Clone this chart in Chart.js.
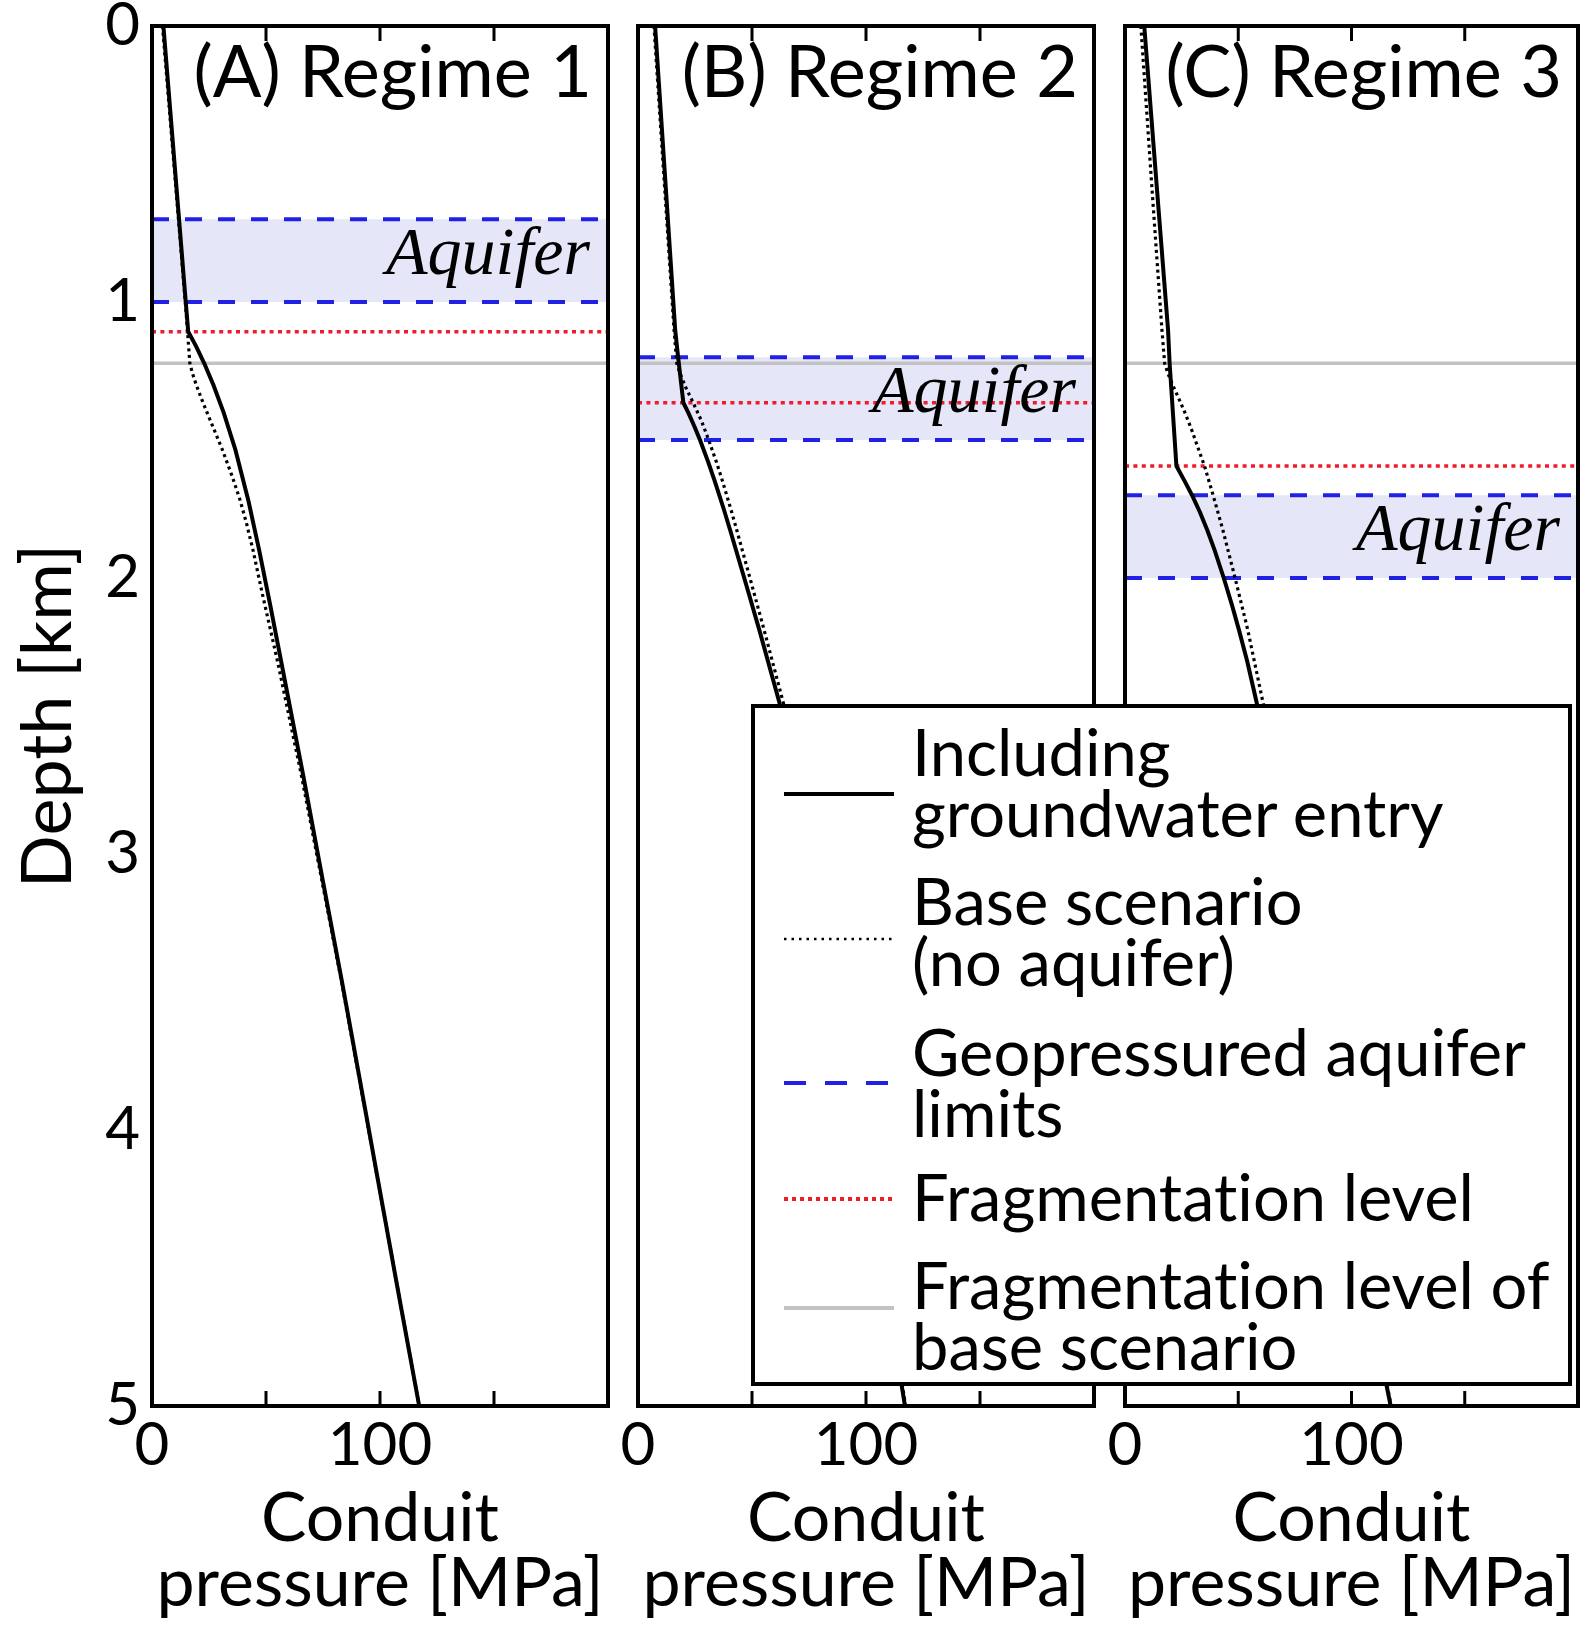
<!DOCTYPE html>
<html>
<head>
<meta charset="utf-8">
<script src="https://cdn.jsdelivr.net/npm/chart.js@4.4.1/dist/chart.umd.min.js"></script>
<style>
  body { margin: 0; background: #fff; }
  #wrap { position: relative; width: 1581px; height: 1625px; overflow: hidden; font-family: Lato, sans-serif; }
  #wrap canvas { position: absolute; left: 0; top: 0; }
  #legend { position: absolute; left: 751px; top: 704px; width: 821px; height: 682px; box-sizing: border-box;
            border: 4px solid #000; background: #fff; z-index: 5; }
  .ltext { position: absolute; left: 912px; font-size: 65px; line-height: 61px; color: #000; white-space: nowrap;
           font-variant-ligatures: none; z-index: 6; }
  .lsample { position: absolute; left: 784px; z-index: 6; }
</style>
</head>
<body>
<div id="wrap">
  <canvas id="panelA" width="1581" height="1625"></canvas>
  <canvas id="panelB" width="1581" height="1625"></canvas>
  <canvas id="panelC" width="1581" height="1625"></canvas>
  <div id="legend"></div>
</div>
<script>
const pressureMax = 200;
const depthMax = 5;
const depthTicks = [0, 1, 2, 3, 4, 5];
const pressureTicks = [0, 50, 100, 150, 200];
const pressureTickLabels = [0, 100];

const titles = ["(A) Regime 1", "(B) Regime 2", "(C) Regime 3"];
const aquiferTop = [0.70, 1.20, 1.70];
const aquiferBottom = [1.00, 1.50, 2.00];
const fragLevel = [1.108, 1.365, 1.594];
const baseFragLevel = 1.222;

// [pressure MPa, depth km]
const solidA = [[5.0, 0], [9.9, 0.5], [14.8, 1.0], [15.9, 1.108], [19.3, 1.16], [22.9, 1.222], [26.9, 1.3],
  [31.4, 1.4], [36.6, 1.536], [42.2, 1.717], [47.0, 1.899], [51.9, 2.1], [56.6, 2.3], [66.3, 2.714],
  [75.0, 3.1], [83.2, 3.457], [91.2, 3.82], [99.5, 4.2], [108.3, 4.6], [117.2, 5.0]];
const dottedA = [[4.6, 0], [9.6, 0.5], [14.6, 1.0], [15.6, 1.108], [16.6, 1.222], [17.8, 1.26], [19.4, 1.3],
  [21.9, 1.355], [26.6, 1.45], [30.9, 1.536], [35.1, 1.63], [38.6, 1.717], [41.4, 1.8], [44.3, 1.899],
  [48.2, 2.05], [55.0, 2.3], [65.5, 2.714], [83.0, 3.457], [117.2, 5.0]];

const solidB = [[7.5, 0], [12.3, 0.6], [16.3, 1.1], [17.6, 1.2], [19.9, 1.365], [22.0, 1.40], [24.7, 1.45],
  [27.2, 1.5], [30.8, 1.58], [33.7, 1.65], [37.6, 1.75], [40.4, 1.826], [46.6, 2.0], [53.2, 2.188],
  [62.1, 2.454], [73.0, 2.9], [85.5, 3.45], [97.0, 4.0], [107.3, 4.5], [117.1, 5.0]];
const dottedB = [[7.0, 0], [11.8, 0.6], [15.8, 1.1], [17.0, 1.222], [18.5, 1.26], [20.8, 1.307], [24.2, 1.365],
  [27.8, 1.43], [31.0, 1.5], [34.4, 1.58], [37.1, 1.65], [40.7, 1.75], [43.3, 1.826], [49.1, 2.0],
  [55.3, 2.188], [63.8, 2.454], [74.0, 2.9], [86.0, 3.45], [97.5, 4.0], [107.6, 4.5], [117.4, 5.0]];

const solidC = [[8.5, 0], [14.2, 0.6], [19.0, 1.1], [19.7, 1.222], [22.7, 1.594], [26.4, 1.65], [29.6, 1.70],
  [33.0, 1.76], [36.3, 1.826], [39.6, 1.9], [43.6, 2.0], [47.3, 2.1], [50.3, 2.188], [53.9, 2.3],
  [58.2, 2.454], [68.5, 2.88], [81.0, 3.45], [93.0, 4.0], [105.0, 4.5], [117.3, 5.0]];
const dottedC = [[7.0, 0], [12.0, 0.6], [16.3, 1.1], [17.5, 1.222], [19.0, 1.26], [21.0, 1.30], [23.4, 1.343],
  [26.4, 1.40], [29.3, 1.46], [32.3, 1.53], [35.1, 1.594], [38.9, 1.70], [43.2, 1.826], [48.6, 2.0],
  [54.2, 2.188], [61.0, 2.454], [71.0, 2.88], [83.0, 3.45], [94.5, 4.0], [105.8, 4.5], [117.5, 5.0]];

const solidCurves = [solidA, solidB, solidC];
const dottedCurves = [dottedA, dottedB, dottedC];

const legendLabels = [
  ["Including", "groundwater entry"],
  ["Base scenario", "(no aquifer)"],
  ["Geopressured aquifer", "limits"],
  ["Fragmentation level"],
  ["Fragmentation level of", "base scenario"],
];

// page layout
const panelLeft = [152, 638, 1125];
const panelRight = [608, 1094, 1578];
const panelTop = 26;
const panelBottom = 1406;
const pageW = 1581, pageH = 1625;

const blue = "#2121e6";
const red = "#f01c2c";
const grey = "#c2c2c2";
const shade = "#e5e7f8";

Chart.defaults.font.family = "Lato, sans-serif";
Chart.defaults.font.size = 60;
Chart.defaults.color = "#000";

function toXY(pairs) {
  return pairs.map(p => ({ x: p[0], y: p[1] }));
}
function level(d) {
  return [{ x: 0, y: d }, { x: pressureMax, y: d }];
}

const framePlugin = {
  id: "frame",
  afterDatasetsDraw(chart, args, opts) {
    const { ctx, chartArea: a } = chart;
    const x = chart.scales.x, y = chart.scales.y;
    ctx.save();
    ctx.fillStyle = "#000";
    ctx.textAlign = "right";
    ctx.textBaseline = "middle";
    ctx.font = 'italic 68px "Liberation Serif", serif';
    ctx.fillText("Aquifer", a.right - 18, y.getPixelForValue((opts.top + opts.bottom) / 2) - 4);
    ctx.font = "72px Lato, sans-serif";
    ctx.fillText(opts.title, a.right - 16, a.top + 48);

    ctx.strokeStyle = "#000";
    ctx.lineWidth = 4;
    ctx.strokeRect(a.left, a.top, a.width, a.height);
    ctx.lineWidth = 3;
    x.ticks.forEach(t => {
      if (t.value <= 0 || t.value >= pressureMax) return;
      const px = x.getPixelForValue(t.value);
      ctx.beginPath();
      ctx.moveTo(px, a.bottom);
      ctx.lineTo(px, a.bottom - 15);
      ctx.moveTo(px, a.top);
      ctx.lineTo(px, a.top + 15);
      ctx.stroke();
    });
    ctx.restore();
  }
};

function makePanel(id, i) {
  const first = i === 0;
  return new Chart(document.getElementById(id), {
    type: "scatter",
    data: {
      datasets: [
        { data: level(aquiferTop[i]), borderColor: blue, borderWidth: 4, borderDash: [17, 16],
          fill: "+1", backgroundColor: shade, order: 10 },
        { data: level(aquiferBottom[i]), borderColor: blue, borderWidth: 4, borderDash: [17, 16], order: 8 },
        { data: level(baseFragLevel), borderColor: grey, borderWidth: 3.5, order: 9 },
        { data: level(fragLevel[i]), borderColor: red, borderWidth: 3.5, borderDash: [4, 4.4], order: 7 },
        { data: toXY(dottedCurves[i]), borderColor: "#000", borderWidth: 3.2, borderDash: [3, 3.6], order: 6 },
        { data: toXY(solidCurves[i]), borderColor: "#000", borderWidth: 4, order: 5 },
      ].map(ds => Object.assign({ showLine: true, pointRadius: 0, tension: 0, borderJoinStyle: "round" }, ds)),
    },
    options: {
      responsive: false,
      animation: false,
      events: [],
      layout: {
        padding: {
          left: first ? 0 : panelLeft[i],
          right: pageW - panelRight[i],
          top: panelTop,
          bottom: 0,
        },
      },
      scales: {
        x: {
          type: "linear",
          min: 0,
          max: pressureMax,
          afterBuildTicks: s => { s.ticks = pressureTicks.map(v => ({ value: v })); },
          afterFit: s => { s.height = pageH - panelBottom; s.paddingLeft = 0; s.paddingRight = 0; },
          ticks: {
            autoSkip: false,
            maxRotation: 0,
            padding: 4,
            callback: v => (pressureTickLabels.includes(v) ? String(v) : ""),
          },
          grid: { display: false, drawTicks: false },
          border: { display: false },
          title: {
            display: true,
            text: ["Conduit", "pressure [MPa]"],
            font: { size: 68, lineHeight: 0.956 },
            padding: { top: 0, bottom: 8 },
          },
        },
        y: {
          type: "linear",
          reverse: true,
          min: 0,
          max: depthMax,
          display: first,
          afterBuildTicks: s => { s.ticks = depthTicks.map(v => ({ value: v })); },
          afterFit: s => {
            if (first) s.width = panelLeft[0];
            s.paddingTop = 0;
            s.paddingBottom = 0;
          },
          ticks: { padding: 12 },
          grid: { display: false, drawTicks: false },
          border: { display: false },
          title: { display: true, text: "Depth [km]", font: { size: 70 }, padding: { top: 6, bottom: 0 } },
        },
      },
      plugins: {
        legend: { display: false },
        tooltip: { enabled: false },
        frame: { title: titles[i], top: aquiferTop[i], bottom: aquiferBottom[i] },
      },
    },
    plugins: [framePlugin],
  });
}

makePanel("panelA", 0);
makePanel("panelB", 1);
makePanel("panelC", 2);

// legend (drawn over panels B and C)
const legendFirstLine = [754, 903, 1054, 1199, 1287];
const legendSampleY = [794, 939, 1083, 1199, 1308];
const legendStyles = [
  { color: "#000", width: 4, dash: "" },
  { color: "#000", width: 2.5, dash: "2.5 5" },
  { color: blue, width: 4, dash: "22 19" },
  { color: red, width: 4, dash: "4 4" },
  { color: grey, width: 4, dash: "" },
];
const wrap = document.getElementById("wrap");
legendLabels.forEach((lines, k) => {
  const t = document.createElement("div");
  t.className = "ltext";
  t.style.top = (legendFirstLine[k] - 33) + "px";
  t.innerHTML = lines.join("<br>");
  wrap.appendChild(t);

  const st = legendStyles[k];
  const svgNS = "http://www.w3.org/2000/svg";
  const svg = document.createElementNS(svgNS, "svg");
  svg.setAttribute("class", "lsample");
  svg.setAttribute("width", "110");
  svg.setAttribute("height", "12");
  svg.style.top = (legendSampleY[k] - 6) + "px";
  const ln = document.createElementNS(svgNS, "line");
  ln.setAttribute("x1", "0"); ln.setAttribute("y1", "6");
  ln.setAttribute("x2", "110"); ln.setAttribute("y2", "6");
  ln.setAttribute("stroke", st.color);
  ln.setAttribute("stroke-width", st.width);
  if (st.dash) ln.setAttribute("stroke-dasharray", st.dash);
  svg.appendChild(ln);
  wrap.appendChild(svg);
});
</script>
</body>
</html>
